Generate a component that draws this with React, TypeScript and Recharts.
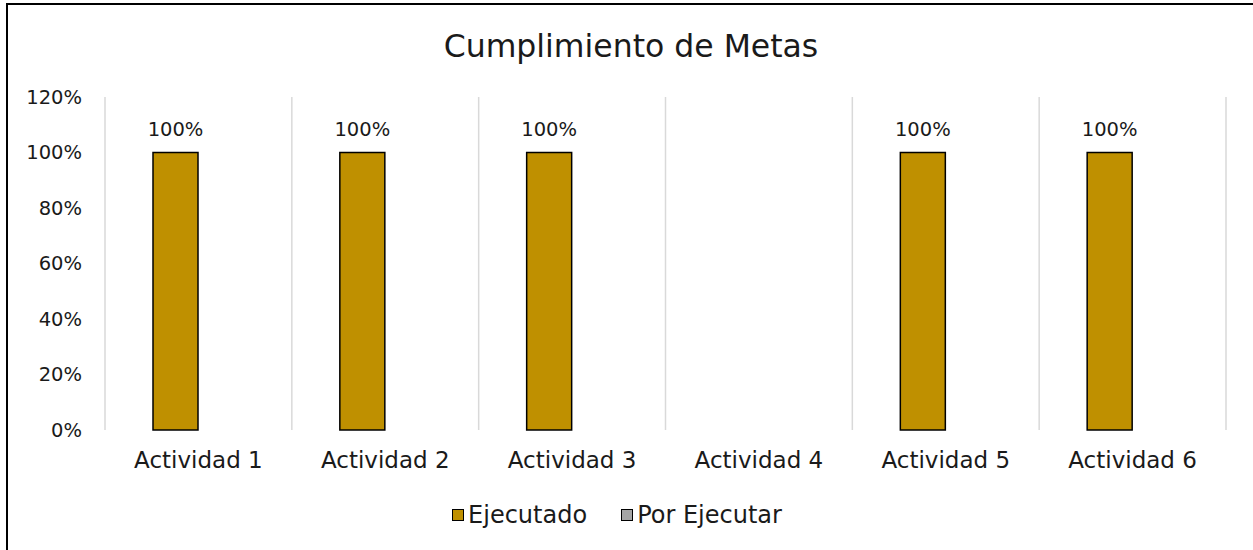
import { BarChart, Bar, XAxis, YAxis, CartesianGrid, Legend, LabelList } from "recharts";

const categories = ["Actividad 1", "Actividad 2", "Actividad 3", "Actividad 4", "Actividad 5", "Actividad 6"];
const ejecutado: (number | null)[] = [1, 1, 1, null, 1, 1];
const porEjecutar: number[] = [0, 0, 0, 0, 0, 0];
const yTicks = [0, 0.2, 0.4, 0.6, 0.8, 1.0, 1.2];

const data = categories.map((name, i) => ({
  name,
  ejecutado: ejecutado[i],
  porEjecutar: porEjecutar[i],
}));

const FONT = "'DejaVu Sans', sans-serif";
const pct = (v: number) => `${Math.round(v * 100)}%`;

function LegendContent({ payload }: any) {
  return (
    <div style={{ height: 30, display: "flex", justifyContent: "center", alignItems: "center", fontFamily: FONT, fontSize: 24, color: "#1a1a1a", paddingLeft: 8 }}>
      {(payload || []).map((p: any, i: number) => (
        <div key={i} style={{ display: "flex", alignItems: "center", marginLeft: i ? 34 : 0 }}>
          <span style={{ width: 10, height: 10, border: "1.5px solid #000", background: p.color, display: "inline-block", marginRight: 4 }} />
          <span>{p.value}</span>
        </div>
      ))}
    </div>
  );
}

export default function App() {
  return (
    <div style={{ position: "fixed", left: 0, top: 0, width: 1253, height: 550, overflow: "hidden", background: "#fff" }}>
      <div style={{ position: "absolute", left: 6, top: 3, width: 1400, height: 700, border: "2px solid #000" }} />
      <div style={{ position: "absolute", left: 0, top: 30, width: 1262, textAlign: "center", fontFamily: FONT, fontSize: 31.5, lineHeight: "32px", color: "#1a1a1a" }}>
        Cumplimiento de Metas
      </div>
      <div style={{ position: "absolute", left: 0, top: 0 }}>
        <BarChart width={1253} height={550} data={data} margin={{ top: 97, right: 27, bottom: 30, left: 0 }} barGap={0} barCategoryGap={48}>
          <CartesianGrid
            horizontal={false}
            stroke="#d9d9d9"
            strokeWidth={1.5}
            verticalCoordinatesGenerator={({ offset }: any) =>
              Array.from({ length: categories.length + 1 }, (_, i) => offset.left + (i * offset.width) / categories.length)
            }
          />
          <XAxis
            dataKey="name"
            height={60}
            axisLine={false}
            tickLine={false}
            tickSize={0}
            tickMargin={22}
            interval={0}
            tick={{ fontFamily: FONT, fontSize: 23, fill: "#1a1a1a" }}
          />
          <YAxis
            width={105}
            domain={[0, 1.2]}
            ticks={yTicks}
            tickFormatter={pct}
            axisLine={false}
            tickLine={false}
            tickSize={0}
            tickMargin={23}
            tick={{ fontFamily: FONT, fontSize: 19.5, fill: "#1a1a1a" }}
          />
          <Legend verticalAlign="bottom" wrapperStyle={{ bottom: 20 }} content={<LegendContent />} />
          <Bar dataKey="ejecutado" name="Ejecutado" fill="#BF9000" stroke="#000" strokeWidth={1.5} isAnimationActive={false}>
            <LabelList
              dataKey="ejecutado"
              content={(props: any) => {
                const { x, y, width, value } = props;
                if (value == null) return null;
                return (
                  <text x={x + width / 2} y={y - 17} textAnchor="middle" fontFamily={FONT} fontSize={19.5} fill="#1a1a1a">
                    {pct(value)}
                  </text>
                );
              }}
            />
          </Bar>
          <Bar dataKey="porEjecutar" name="Por Ejecutar" fill="#A5A5A5" stroke="#000" strokeWidth={1.5} isAnimationActive={false} />
        </BarChart>
      </div>
    </div>
  );
}
